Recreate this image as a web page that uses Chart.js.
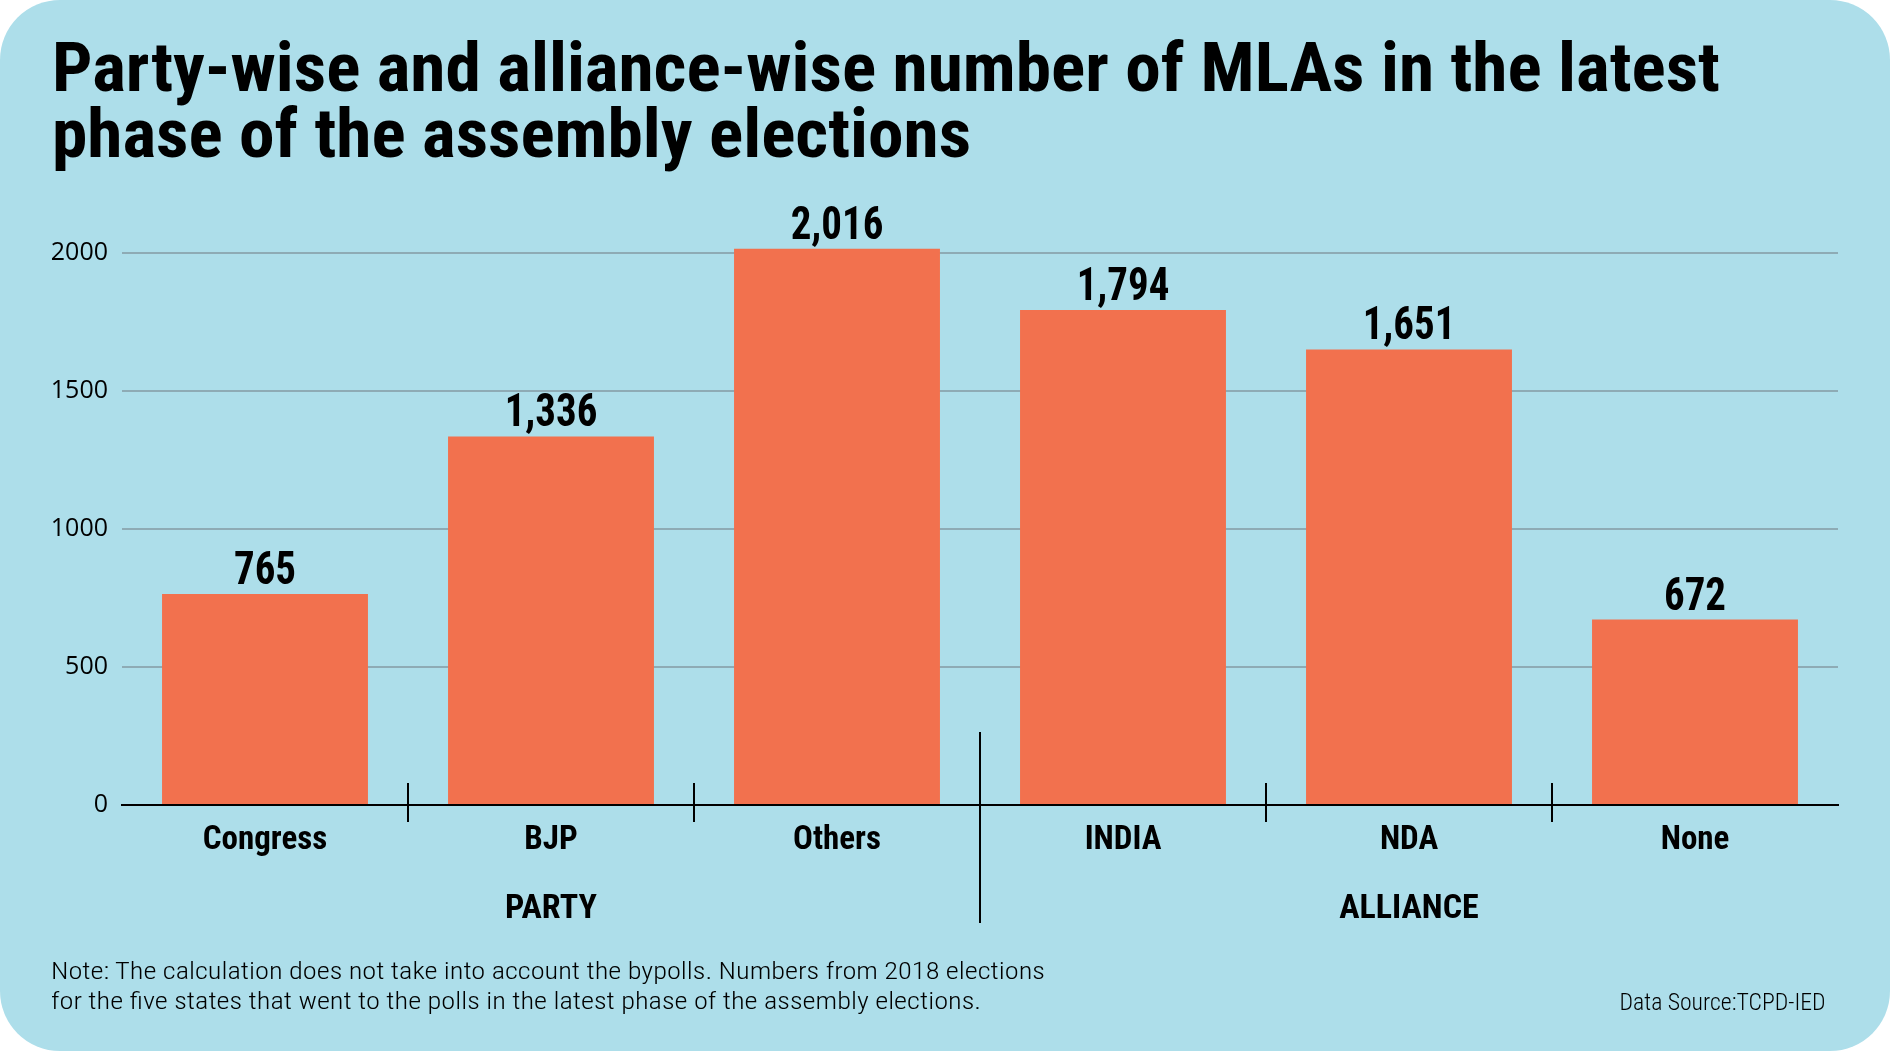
<!DOCTYPE html>
<html>
<head>
<meta charset="utf-8">
<script src="https://cdn.jsdelivr.net/npm/chart.js@4.4.1/dist/chart.umd.min.js"></script>
<style>
html,body{margin:0;padding:0;background:#fff;}
#card{position:absolute;left:0;top:0;width:1890px;height:1051px;background:#ADDEEA;border-radius:60px;overflow:hidden;}
#chart{position:absolute;left:0;top:0;}
.t{position:absolute;left:0;top:0;white-space:nowrap;display:inline-block;color:#000;}
.title{font-family:'Roboto Condensed','DejaVu Sans Condensed',sans-serif;font-weight:bold;font-size:68px;}
.note{font-family:'Roboto Condensed','DejaVu Sans Condensed',sans-serif;font-weight:300;font-size:23px;}
</style>
</head>
<body>
<div id="card">
  <canvas id="chart" width="1890" height="1051"></canvas>
  <div class="t title" id="t1">Party-wise and alliance-wise number of MLAs in the latest</div>
  <div class="t title" id="t2">phase of the assembly elections</div>
  <div class="t note" id="n1">Note: The calculation does not take into account the bypolls. Numbers from 2018 elections</div>
  <div class="t note" id="n2">for the five states that went to the polls in the latest phase of the assembly elections.</div>
  <div class="t note" id="src">Data Source:TCPD-IED</div>
</div>
<script>
// ---- data ----
const categories = ['Congress', 'BJP', 'Others', 'INDIA', 'NDA', 'None'];
const mlaCounts = [765, 1336, 2016, 1794, 1651, 672];
const groupLabels = ['PARTY', 'ALLIANCE'];
const groupOf = [0, 0, 0, 1, 1, 1];
const yTicks = [0, 500, 1000, 1500, 2000];

const CONDENSED = "'Roboto Condensed', 'DejaVu Sans Condensed', sans-serif";
const BAR = '#F2714E';

const annot = {
  id: 'annot',
  afterDraw(chart) {
    const ctx = chart.ctx;
    const xs = chart.scales.x;
    const bottom = chart.chartArea.bottom;
    const meta = chart.getDatasetMeta(0);
    ctx.save();
    ctx.fillStyle = '#000';
    ctx.textAlign = 'center';
    ctx.textBaseline = 'alphabetic';
    ctx.font = 'bold 47px ' + CONDENSED;
    // narrow the value labels to the reference's digit width (~0.44em per digit)
    const sx = Math.min(1, (0.44 * 47 * 3) / ctx.measureText('765').width);
    meta.data.forEach((bar, i) => {
      ctx.save();
      ctx.translate(bar.x, bar.y - 10);
      ctx.scale(sx, 1);
      ctx.fillText(mlaCounts[i].toLocaleString('en-US'), 0, 0);
      ctx.restore();
    });
    ctx.strokeStyle = '#000';
    ctx.lineWidth = 2;
    for (let i = 1; i < categories.length; i++) {
      const x = Math.round((xs.getPixelForValue(i - 1) + xs.getPixelForValue(i)) / 2);
      const brk = groupOf[i] !== groupOf[i - 1];
      ctx.beginPath();
      if (brk) { ctx.moveTo(x, bottom - 73); ctx.lineTo(x, bottom + 118); }
      else { ctx.moveTo(x, bottom - 22); ctx.lineTo(x, bottom + 17); }
      ctx.stroke();
    }
    ctx.font = 'bold 34px ' + CONDENSED;
    groupLabels.forEach((g, gi) => {
      const idx = categories.map((c, i) => i).filter(i => groupOf[i] === gi);
      const cx = (xs.getPixelForValue(idx[0]) + xs.getPixelForValue(idx[idx.length - 1])) / 2;
      ctx.fillText(g, cx, bottom + 113);
    });
    ctx.restore();
  }
};

new Chart(document.getElementById('chart'), {
  type: 'bar',
  data: {
    labels: categories,
    datasets: [{
      data: mlaCounts,
      backgroundColor: BAR,
      borderWidth: 0,
      categoryPercentage: 1,
      barPercentage: 0.72
    }]
  },
  options: {
    responsive: false,
    devicePixelRatio: 1,
    animation: false,
    layout: { padding: { left: 0, right: 52, top: 198, bottom: 46 } },
    plugins: { legend: { display: false }, tooltip: { enabled: false } },
    scales: {
      x: {
        afterFit: s => { s.height = 200; },
        grid: { display: false, drawTicks: false },
        border: { display: true, color: '#000', width: 2 },
        ticks: {
          padding: 19, color: '#000', autoSkip: false, maxRotation: 0,
          font: { family: CONDENSED, weight: 'bold', size: 33, lineHeight: 1 }
        }
      },
      y: {
        min: 0, max: 2200,
        afterBuildTicks: s => { s.ticks = yTicks.map(v => ({ value: v })); },
        afterFit: s => { s.width = 122; },
        grid: { color: '#8EABB5', lineWidth: 2, drawTicks: false },
        border: { display: false },
        ticks: { padding: 14, color: '#000', callback: v => String(v), font: { family: "'Open Sans', sans-serif", size: 25 } }
      }
    }
  },
  plugins: [annot]
});

// ---- place HTML text lines on baselines, fitted to reference widths ----
function place(id, x, baseline, opts) {
  const el = document.getElementById(id);
  const m = document.createElement('span');
  m.style.cssText = 'display:inline-block;width:0;height:0;';
  el.appendChild(m);
  const er = el.getBoundingClientRect(), mr = m.getBoundingClientRect();
  const baseOff = mr.bottom - er.top;
  const w = er.width;
  const s = opts.scale || (opts.width / w);
  el.style.transformOrigin = opts.align === 'right' ? 'right top' : 'left top';
  el.style.transform = 'scaleX(' + s + ')';
  el.style.left = (opts.align === 'right' ? x - w : x) + 'px';
  el.style.top = (baseline - baseOff) + 'px';
  return s;
}
const s1 = place('t1', 52, 91, { width: 1668 });
place('t2', 52, 157, { scale: s1 });
const s2 = place('n1', 51, 979, { width: 994 });
place('n2', 51, 1009, { scale: s2 });
place('src', 1826, 1010, { width: 206, align: 'right' });
</script>
</body>
</html>
